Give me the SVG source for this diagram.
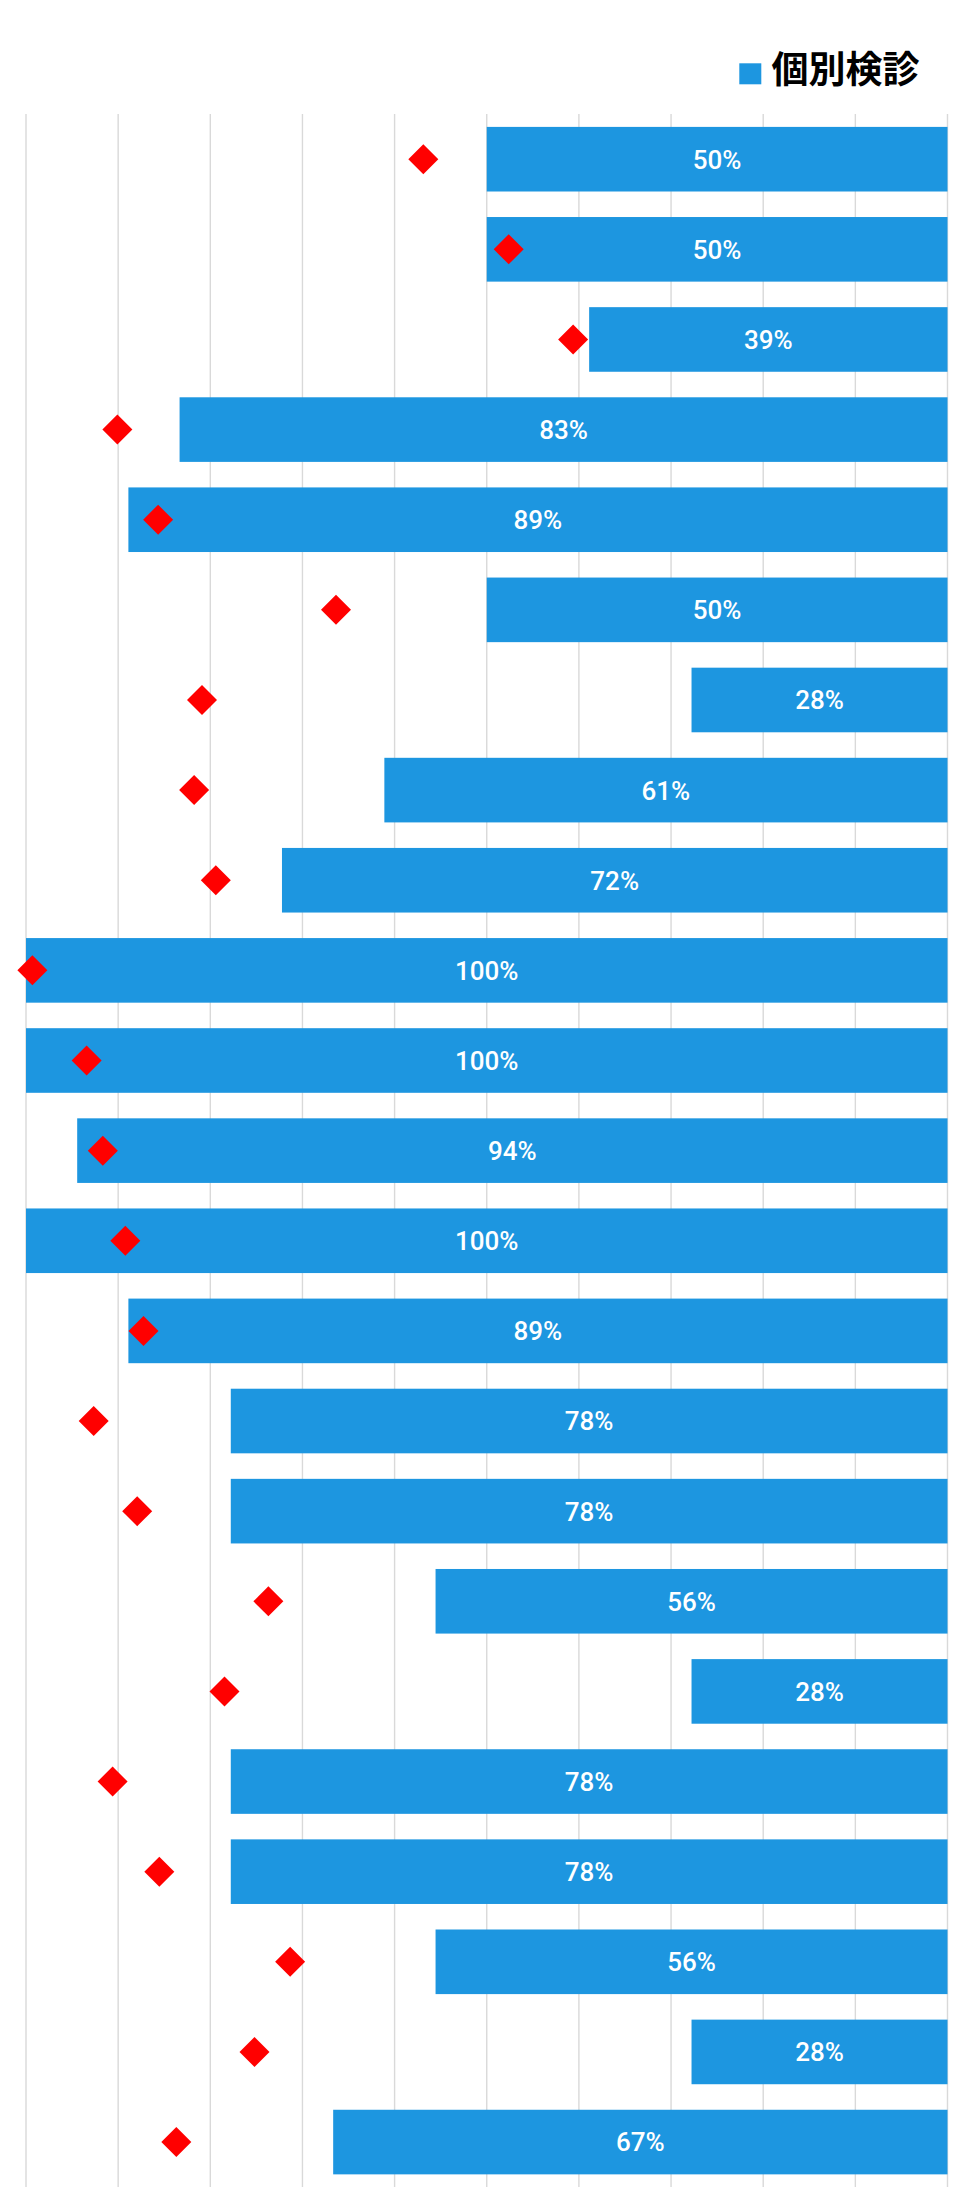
<svg xmlns="http://www.w3.org/2000/svg" xmlns:xlink="http://www.w3.org/1999/xlink" width="968" height="2206" viewBox="0 0 968 2206">
<style>
.grid line{stroke:#d9d9d9;stroke-width:1.4}
.bar{fill:#1d96e0}
.lbl{fill:#ffffff;font-family:Roboto,"Liberation Sans",sans-serif;font-size:26px;font-weight:500;text-anchor:middle}
.leg{fill:#000000;font-family:"Noto Sans CJK JP","Noto Sans CJK SC",sans-serif;font-size:37px;font-weight:700}
</style>
<defs>
<path id="dm" d="M0,-15 L15,0 L0,15 L-15,0 Z" fill="#ff0000"/>
</defs>
<rect width="968" height="2206" fill="#ffffff"/>
<g id="legend">
<rect x="739.3" y="63.3" width="22" height="21" fill="#1d96e0"/>
<text class="leg" x="771.5" y="83">個別検診</text>
</g>
<g class="grid" id="gridlines">
<line x1="26" y1="114" x2="26" y2="2187"/>
<line x1="118.15" y1="114" x2="118.15" y2="2187"/>
<line x1="210.3" y1="114" x2="210.3" y2="2187"/>
<line x1="302.45" y1="114" x2="302.45" y2="2187"/>
<line x1="394.6" y1="114" x2="394.6" y2="2187"/>
<line x1="486.75" y1="114" x2="486.75" y2="2187"/>
<line x1="578.9" y1="114" x2="578.9" y2="2187"/>
<line x1="671.05" y1="114" x2="671.05" y2="2187"/>
<line x1="763.2" y1="114" x2="763.2" y2="2187"/>
<line x1="855.35" y1="114" x2="855.35" y2="2187"/>
<line x1="947.5" y1="114" x2="947.5" y2="2187"/>
</g>
<g id="row1"><rect class="bar" x="486.75" y="126.9" width="460.75" height="64.6"/><text class="lbl" x="717.1" y="168.6">50%</text><use xlink:href="#dm" x="423.3" y="159.2"/></g>
<g id="row2"><rect class="bar" x="486.75" y="217.03" width="460.75" height="64.6"/><text class="lbl" x="717.1" y="258.73">50%</text><use xlink:href="#dm" x="508.7" y="249.33"/></g>
<g id="row3"><rect class="bar" x="589.14" y="307.16" width="358.36" height="64.6"/><text class="lbl" x="768.3" y="348.86">39%</text><use xlink:href="#dm" x="573.1" y="339.46"/></g>
<g id="row4"><rect class="bar" x="179.58" y="397.29" width="767.92" height="64.6"/><text class="lbl" x="563.5" y="438.99">83%</text><use xlink:href="#dm" x="117.4" y="429.59"/></g>
<g id="row5"><rect class="bar" x="128.39" y="487.42" width="819.11" height="64.6"/><text class="lbl" x="537.9" y="529.12">89%</text><use xlink:href="#dm" x="158.1" y="519.72"/></g>
<g id="row6"><rect class="bar" x="486.75" y="577.55" width="460.75" height="64.6"/><text class="lbl" x="717.1" y="619.25">50%</text><use xlink:href="#dm" x="336" y="609.85"/></g>
<g id="row7"><rect class="bar" x="691.53" y="667.68" width="255.97" height="64.6"/><text class="lbl" x="819.5" y="709.38">28%</text><use xlink:href="#dm" x="202" y="699.98"/></g>
<g id="row8"><rect class="bar" x="384.36" y="757.81" width="563.14" height="64.6"/><text class="lbl" x="665.9" y="799.51">61%</text><use xlink:href="#dm" x="194.1" y="790.11"/></g>
<g id="row9"><rect class="bar" x="281.97" y="847.94" width="665.53" height="64.6"/><text class="lbl" x="614.7" y="889.64">72%</text><use xlink:href="#dm" x="215.8" y="880.24"/></g>
<g id="row10"><rect class="bar" x="26" y="938.07" width="921.5" height="64.6"/><text class="lbl" x="486.75" y="979.77">100%</text><use xlink:href="#dm" x="32.4" y="970.37"/></g>
<g id="row11"><rect class="bar" x="26" y="1028.2" width="921.5" height="64.6"/><text class="lbl" x="486.75" y="1069.9">100%</text><use xlink:href="#dm" x="86.6" y="1060.5"/></g>
<g id="row12"><rect class="bar" x="77.19" y="1118.33" width="870.31" height="64.6"/><text class="lbl" x="512.3" y="1160.03">94%</text><use xlink:href="#dm" x="102.8" y="1150.63"/></g>
<g id="row13"><rect class="bar" x="26" y="1208.46" width="921.5" height="64.6"/><text class="lbl" x="486.75" y="1250.16">100%</text><use xlink:href="#dm" x="125.3" y="1240.76"/></g>
<g id="row14"><rect class="bar" x="128.39" y="1298.59" width="819.11" height="64.6"/><text class="lbl" x="537.9" y="1340.29">89%</text><use xlink:href="#dm" x="143.5" y="1330.89"/></g>
<g id="row15"><rect class="bar" x="230.78" y="1388.72" width="716.72" height="64.6"/><text class="lbl" x="589.1" y="1430.42">78%</text><use xlink:href="#dm" x="93.7" y="1421.02"/></g>
<g id="row16"><rect class="bar" x="230.78" y="1478.85" width="716.72" height="64.6"/><text class="lbl" x="589.1" y="1520.55">78%</text><use xlink:href="#dm" x="137.2" y="1511.15"/></g>
<g id="row17"><rect class="bar" x="435.56" y="1568.98" width="511.94" height="64.6"/><text class="lbl" x="691.5" y="1610.68">56%</text><use xlink:href="#dm" x="268.4" y="1601.28"/></g>
<g id="row18"><rect class="bar" x="691.53" y="1659.11" width="255.97" height="64.6"/><text class="lbl" x="819.5" y="1700.81">28%</text><use xlink:href="#dm" x="224.5" y="1691.41"/></g>
<g id="row19"><rect class="bar" x="230.78" y="1749.24" width="716.72" height="64.6"/><text class="lbl" x="589.1" y="1790.94">78%</text><use xlink:href="#dm" x="112.6" y="1781.54"/></g>
<g id="row20"><rect class="bar" x="230.78" y="1839.37" width="716.72" height="64.6"/><text class="lbl" x="589.1" y="1881.07">78%</text><use xlink:href="#dm" x="159.3" y="1871.67"/></g>
<g id="row21"><rect class="bar" x="435.56" y="1929.5" width="511.94" height="64.6"/><text class="lbl" x="691.5" y="1971.2">56%</text><use xlink:href="#dm" x="290.1" y="1961.8"/></g>
<g id="row22"><rect class="bar" x="691.53" y="2019.63" width="255.97" height="64.6"/><text class="lbl" x="819.5" y="2061.33">28%</text><use xlink:href="#dm" x="254.5" y="2051.93"/></g>
<g id="row23"><rect class="bar" x="333.17" y="2109.76" width="614.33" height="64.6"/><text class="lbl" x="640.3" y="2151.46">67%</text><use xlink:href="#dm" x="176.3" y="2142.06"/></g>
</svg>
